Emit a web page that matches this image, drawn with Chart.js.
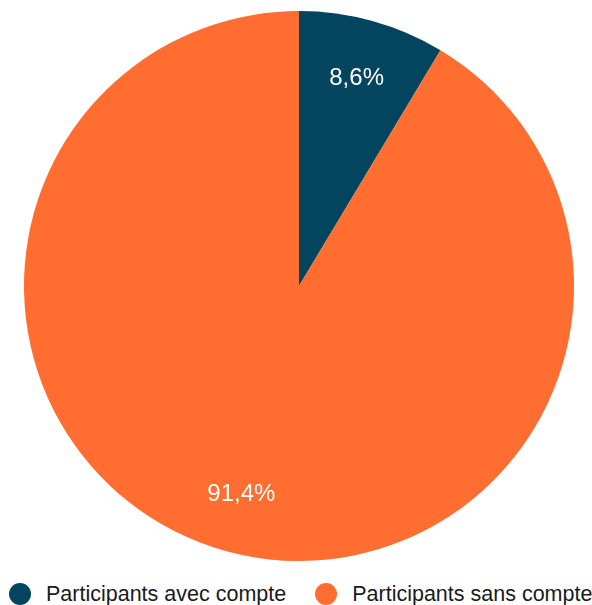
<!DOCTYPE html>
<html>
<head>
<meta charset="utf-8">
<script src="https://cdn.jsdelivr.net/npm/chart.js@4"></script>
<style>
  html, body { margin: 0; padding: 0; background: #fff; overflow: hidden; }
  #wrap { position: relative; width: 592px; height: 561px; }
  #leyenda {
    position: absolute; left: 9px; top: 583px; margin: 0; padding: 0;
    list-style: none; display: flex; align-items: center; height: 22px;
    font-family: 'Liberation Sans', Arial, sans-serif; font-size: 21.5px; color: #1a1a1a;
    white-space: nowrap;
  }
  #leyenda li { display: flex; align-items: center; margin-right: 29px; }
  #leyenda span.punto { display: inline-block; width: 22px; height: 22px; border-radius: 50%; margin-right: 15px; }
</style>
</head>
<body>
<div id="wrap"><canvas id="grafico"></canvas></div>
<ul id="leyenda"></ul>
<script>
// datos del grafico
const categorias = ["Participants avec compte", "Participants sans compte"];
const valores = [8.6, 91.4];
const colores = ["#03445f", "#ff6d31"];

// etiquetas de porcentaje dentro de cada porcion
const etiquetasPorcentaje = {
  id: "etiquetasPorcentaje",
  afterDatasetsDraw(chart) {
    const ctx = chart.ctx;
    const meta = chart.getDatasetMeta(0);
    ctx.save();
    ctx.fillStyle = "#ffffff";
    ctx.font = "24px 'Liberation Sans', Arial, sans-serif";
    ctx.textAlign = "center";
    ctx.textBaseline = "middle";
    meta.data.forEach((arco, i) => {
      const { x, y, startAngle, endAngle, outerRadius } = arco.getProps(["x", "y", "startAngle", "endAngle", "outerRadius"], true);
      const medio = (startAngle + endAngle) / 2;
      const r = outerRadius * 0.785;
      const texto = valores[i].toFixed(1).replace(".", ",") + "%";
      ctx.fillText(texto, x + Math.cos(medio) * r, y + Math.sin(medio) * r);
    });
    ctx.restore();
  }
};

// leyenda en html, armada con los items que da el chart
const leyendaHtml = {
  id: "leyendaHtml",
  afterUpdate(chart) {
    const lista = document.getElementById("leyenda");
    lista.innerHTML = "";
    const items = chart.options.plugins.legend.labels.generateLabels(chart);
    items.forEach(item => {
      const li = document.createElement("li");
      const punto = document.createElement("span");
      punto.className = "punto";
      punto.style.background = item.fillStyle;
      const texto = document.createElement("span");
      texto.textContent = item.text;
      li.appendChild(punto);
      li.appendChild(texto);
      lista.appendChild(li);
    });
  }
};

new Chart(document.getElementById("grafico"), {
  type: "pie",
  data: {
    labels: categorias,
    datasets: [{
      data: valores,
      backgroundColor: colores,
      borderWidth: 0
    }]
  },
  options: {
    responsive: true,
    maintainAspectRatio: false,
    animation: false,
    layout: { padding: { top: 11, left: 6 } },
    plugins: {
      tooltip: { enabled: false },
      legend: { display: false }
    }
  },
  plugins: [etiquetasPorcentaje, leyendaHtml]
});
</script>
</body>
</html>
